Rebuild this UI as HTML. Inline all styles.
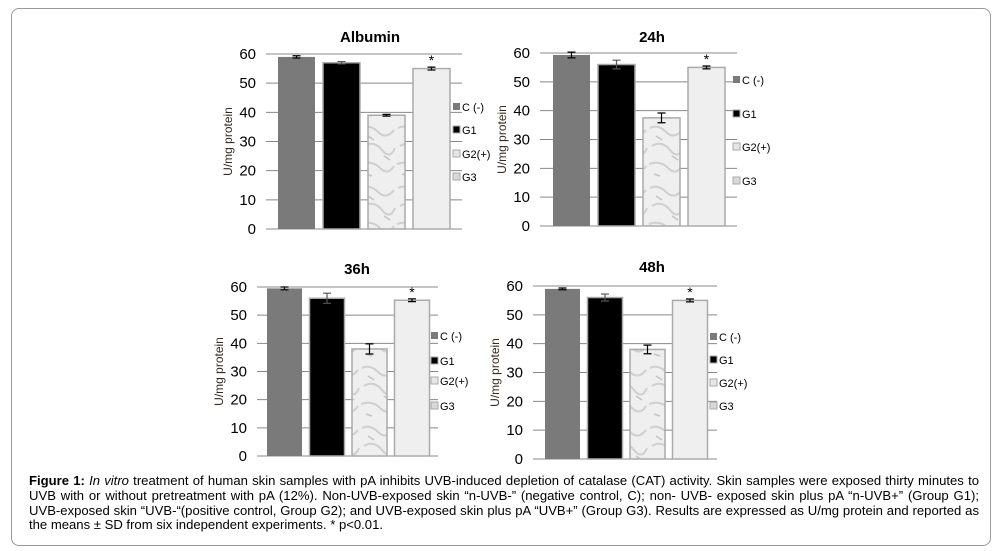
<!DOCTYPE html>
<html><head><meta charset="utf-8">
<style>
body{margin:0;width:1002px;height:551px;background:#fff;overflow:hidden;font-family:"Liberation Sans",sans-serif}
#frame{position:absolute;left:11px;top:8px;width:980px;height:538px;border:1px solid #999;border-radius:8px;box-sizing:border-box}
#cap{position:absolute;left:29px;top:474px;width:950px;font-size:13.1px;line-height:14.8px;text-align:justify;color:#000}
svg{position:absolute;left:0;top:0}
</style></head><body>
<div id="frame"></div>
<svg id="chart" width="1002" height="551">
<defs>
<pattern id="marble" width="36" height="60" patternUnits="userSpaceOnUse">
<rect width="36" height="60" fill="#efefef"/>
<path d="M2 8 Q10 4 18 12 T34 10 M4 26 Q14 20 22 30 T35 28 M1 44 Q12 40 20 48 T34 46" stroke="#cfcfcf" stroke-width="2" fill="none"/>
<path d="M8 16 L14 20 M24 36 L30 40 M6 54 L12 56" stroke="#c4c4c4" stroke-width="1.5"/>
</pattern>
</defs>
</svg>
<div id="cap"><b>Figure 1:</b> <i>In vitro</i> treatment of human skin samples with pA inhibits UVB-induced depletion of catalase (CAT) activity. Skin samples were exposed thirty minutes to UVB with or without pretreatment with pA (12%). Non-UVB-exposed skin “n-UVB-” (negative control, C); non- UVB- exposed skin plus pA “n-UVB+” (Group G1); UVB-exposed skin “UVB-“(positive control, Group G2); and UVB-exposed skin plus pA “UVB+” (Group G3). Results are expressed as U/mg protein and reported as the means ± SD from six independent experiments. * p&lt;0.01.</div>
<script>
const categories = ["C (-)", "G1", "G2(+)", "G3"];
const panelTitles = ["Albumin", "24h", "36h", "48h"];
const albuminValues = [59, 57, 39, 55];
const albuminErrors = [0.4, 0.4, 0.3, 0.5];
const h24Values = [59.3, 56, 37.5, 55];
const h24Errors = [1, 1.5, 1.7, 0.5];
const h36Values = [59.5, 56, 38, 55.3];
const h36Errors = [0.5, 1.8, 1.8, 0.5];
const h48Values = [59, 56, 38, 55];
const h48Errors = [0.3, 1.2, 1.5, 0.5];
const yTicks = [0, 10, 20, 30, 40, 50, 60];
const significant = [false, false, false, true];

const seriesVals = [albuminValues, h24Values, h36Values, h48Values];
const seriesErrs = [albuminErrors, h24Errors, h36Errors, h48Errors];
const layouts = [
 {x0:266,x1:462,yTop:54,yBot:229,bx:278,pitch:45,bw:37,lx:453,ly:[107,130,154,177],tx:370,ty:42},
 {x0:540,x1:737,yTop:53,yBot:226,bx:553,pitch:45,bw:37,lx:733,ly:[80,114,147,181],tx:652,ty:42},
 {x0:257,x1:438,yTop:287,yBot:456,bx:267,pitch:42.5,bw:35,lx:431,ly:[336,361,381,406],tx:357,ty:274},
 {x0:533,x1:717,yTop:286,yBot:459,bx:545,pitch:42.5,bw:35,lx:710,ly:[337,360,383,406],tx:652,ty:272}
];
const fills = ["#7a7a7a", "#000000", "url(#marble)", "#efefef"];
const legendFills = ["#7a7a7a", "#000000", "#e6e6e6", "#d8d8d8"];
const svg = document.getElementById('chart');
const NS = "http://www.w3.org/2000/svg";
function mk(tag, attrs){const e=document.createElementNS(NS,tag);for(const k in attrs)e.setAttribute(k,attrs[k]);svg.appendChild(e);return e;}

layouts.forEach((L, p) => {
  const yScale = v => L.yBot - (v / 60) * (L.yBot - L.yTop);
  const t = mk('text',{x:L.tx,y:L.ty,'text-anchor':'middle','font-size':15,'font-weight':'bold'});
  t.textContent = panelTitles[p];
  
  
  yTicks.forEach(v => {
    const y = yScale(v);
    const g = mk('line',{x1:L.x0,x2:L.x1,y1:y,y2:y,stroke:'#888','stroke-width':1});
    
    
    const tl = mk('text',{x:L.x0-10,y:y+5,'text-anchor':'end','font-size':15});
    tl.textContent = v;
    
    
  });
  const cy = (L.yTop + L.yBot) / 2;
  const yt = mk('text',{x:0,y:0,'text-anchor':'middle','font-size':12,fill:'#3a2a20',transform:`translate(${L.x0-34},${cy}) rotate(-90)`});
  yt.textContent = "U/mg protein";
  
  
  const vals = seriesVals[p], errs = seriesErrs[p];
  vals.forEach((v, i) => {
    const x = L.bx + i * L.pitch;
    const y = yScale(v);
    const b = mk('rect',{x:x,y:y,width:L.bw,height:L.yBot-y,fill:fills[i],stroke:i===0?'#7a7a7a':'#aaa','stroke-width':i===0?0:1.5});
    
    
    const cx = x + L.bw / 2;
    const ya = yScale(v + errs[i]), yb = yScale(v - errs[i]);
    const e = mk('path',{d:`M${cx-4} ${ya}H${cx+4}M${cx} ${ya}V${yb}M${cx-4} ${yb}H${cx+4}`,stroke:i===1?'#555':'#000','stroke-width':1.2,fill:'none'});
    
    
    if (significant[i]) {
      const s = mk('text',{x:cx,y:ya-2,'text-anchor':'middle','font-size':14});
      s.textContent = "*";
      
      
    }
  });
  categories.forEach((c, i) => {
    const ly = L.ly[i];
    const sq = mk('rect',{x:L.lx,y:ly-4,width:7,height:7,fill:legendFills[i],stroke:'#aaa','stroke-width':i===0?0:1});
    
    
    const lt = mk('text',{x:L.lx+9,y:ly+4,'font-size':11});
    lt.textContent = c;
    
    
  });
});
</script>
</body></html>
